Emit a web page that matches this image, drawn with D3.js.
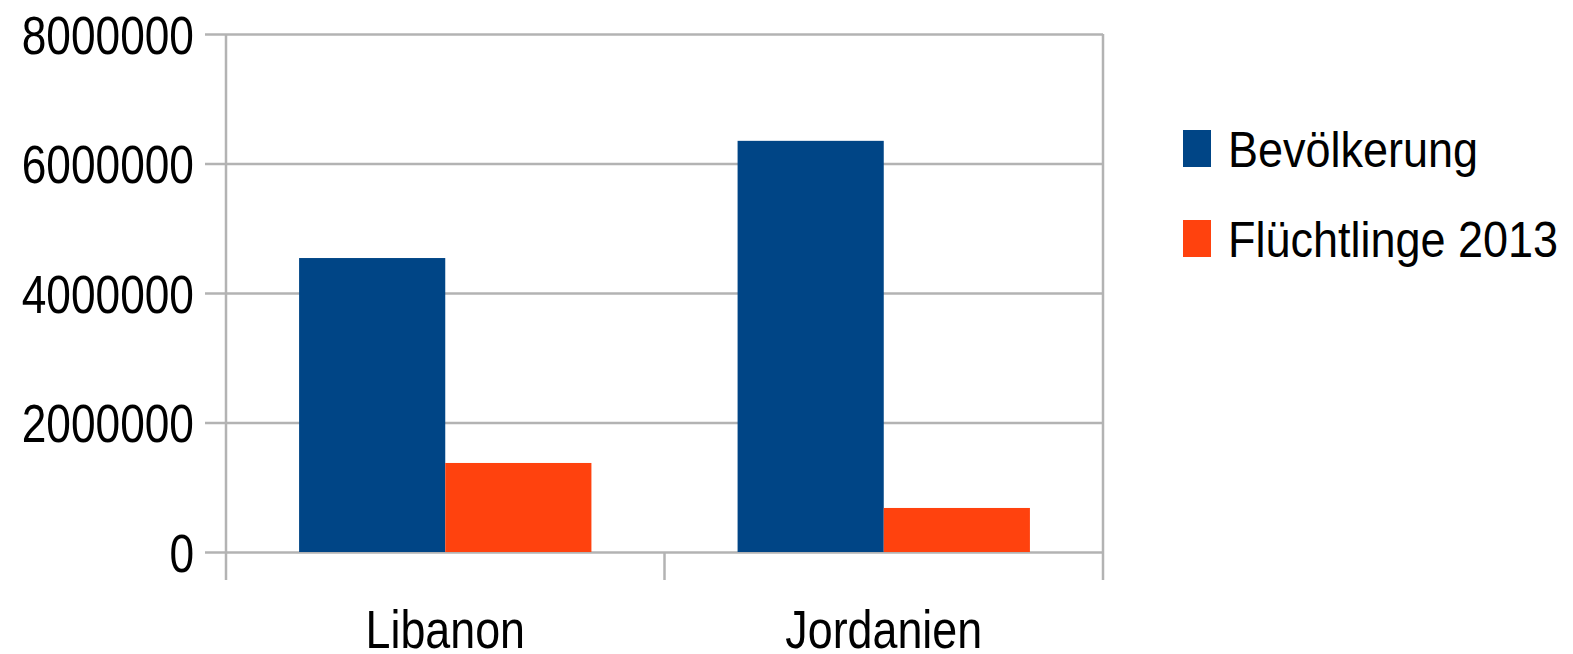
<!DOCTYPE html>
<html>
<head>
<meta charset="utf-8">
<script src="https://cdn.jsdelivr.net/npm/d3@7"></script>
<style>
  html, body { margin: 0; padding: 0; background: #fff; }
  svg { display: block; }
  text { font-family: "Liberation Sans", Arial, sans-serif; fill: #000; }
</style>
</head>
<body>
<svg id="chart" width="1573" height="654"></svg>
<script>
const categories = ["Libanon", "Jordanien"];
const seriesNames = ["Bevölkerung", "Flüchtlinge 2013"];
const bevoelkerung = [4540000, 6350000];
const fluechtlinge = [1375000, 680000];
const yTicks = [0, 2000000, 4000000, 6000000, 8000000];
const colors = ["#004586", "#ff420e"];

const seriesValues = [bevoelkerung, fluechtlinge];
const svg = d3.select("#chart");

const plotLeft = 226, plotRight = 1103, plotTop = 34, plotBottom = 552;

const y = d3.scaleLinear().domain([0, 8000000]).range([plotBottom, plotTop]);
const x0 = d3.scaleBand().domain(categories).range([plotLeft, plotRight]).paddingInner(0).paddingOuter(0);
const x1 = d3.scaleBand().domain(seriesNames).range([0, x0.bandwidth()]).paddingInner(0).paddingOuter(0.5);

const gridColor = "#b3b3b3";

// gridlines
const grid = svg.append("g")
  .attr("transform", `translate(205,0)`)
  .call(d3.axisRight(y).tickValues(yTicks).tickSize(plotRight - 205).tickFormat(""));
grid.select(".domain").remove();
grid.selectAll("line").attr("stroke", gridColor).attr("stroke-width", 2.5);

// y labels
const yl = svg.append("g")
  .attr("transform", `translate(194,0)`)
  .call(d3.axisLeft(y).tickValues(yTicks).tickSize(0).tickPadding(0).tickFormat(d3.format("d")));
yl.select(".domain").remove();
yl.selectAll("text")
  .attr("x", null).attr("dy", null)
  .attr("dominant-baseline", "central")
  .attr("text-anchor", "end")
  .style("font-family", '"Liberation Sans", Arial, sans-serif')
  .style("font-size", "54px")
  .attr("fill", "#000")
  .attr("transform", "scale(0.82,1)");

// bars
const groups = svg.append("g").selectAll("g")
  .data(categories)
  .join("g")
  .attr("transform", c => `translate(${x0(c)},0)`);

groups.selectAll("rect")
  .data((c, i) => seriesNames.map((s, j) => ({ s, v: seriesValues[j][i], j })))
  .join("rect")
  .attr("x", d => x1(d.s))
  .attr("width", x1.bandwidth())
  .attr("y", d => y(d.v))
  .attr("height", d => y(0) - y(d.v))
  .attr("fill", d => colors[d.j]);

// vertical axis lines & category boundary ticks
const tickLen = 28;
svg.append("line")
  .attr("x1", plotLeft).attr("x2", plotLeft)
  .attr("y1", y(8000000)).attr("y2", y(0) + tickLen)
  .attr("stroke", gridColor).attr("stroke-width", 2.5);
svg.append("line")
  .attr("x1", plotRight).attr("x2", plotRight)
  .attr("y1", y(8000000)).attr("y2", y(0) + tickLen)
  .attr("stroke", gridColor).attr("stroke-width", 2.5);
svg.append("g").selectAll("line")
  .data(categories.slice(1))
  .join("line")
  .attr("x1", c => x0(c)).attr("x2", c => x0(c))
  .attr("y1", y(0)).attr("y2", y(0) + tickLen)
  .attr("stroke", gridColor).attr("stroke-width", 2.5);

// x labels
const xl = svg.append("g")
  .attr("transform", `translate(0,${y(0)})`)
  .call(d3.axisBottom(x0).tickSize(0).tickPadding(0));
xl.select(".domain").remove();
xl.selectAll("text")
  .attr("y", 96).attr("dy", null)
  .style("font-family", '"Liberation Sans", Arial, sans-serif')
  .style("font-size", "54px")
  .attr("fill", "#000")
  .attr("transform", "scale(0.83,1)")
  .each(function () {
    // keep label centered after horizontal scale
    const t = d3.select(this.parentNode).attr("transform");
  });
// re-center: apply scale around tick position
xl.selectAll(".tick").each(function () {
  const tr = d3.select(this).attr("transform");
  d3.select(this).select("text").attr("transform", "scale(0.83,1)");
});

// legend
const legend = svg.append("g");
const legendY = [167, 257];
seriesNames.forEach((s, i) => {
  legend.append("rect")
    .attr("x", 1183).attr("y", legendY[i] - 37)
    .attr("width", 28).attr("height", 37)
    .attr("fill", colors[i]);
  legend.append("text")
    .attr("transform", `translate(1228,${legendY[i]}) scale(0.9,1)`)
    .style("font-size", "50px")
    .text(s);
});
</script>
</body>
</html>
